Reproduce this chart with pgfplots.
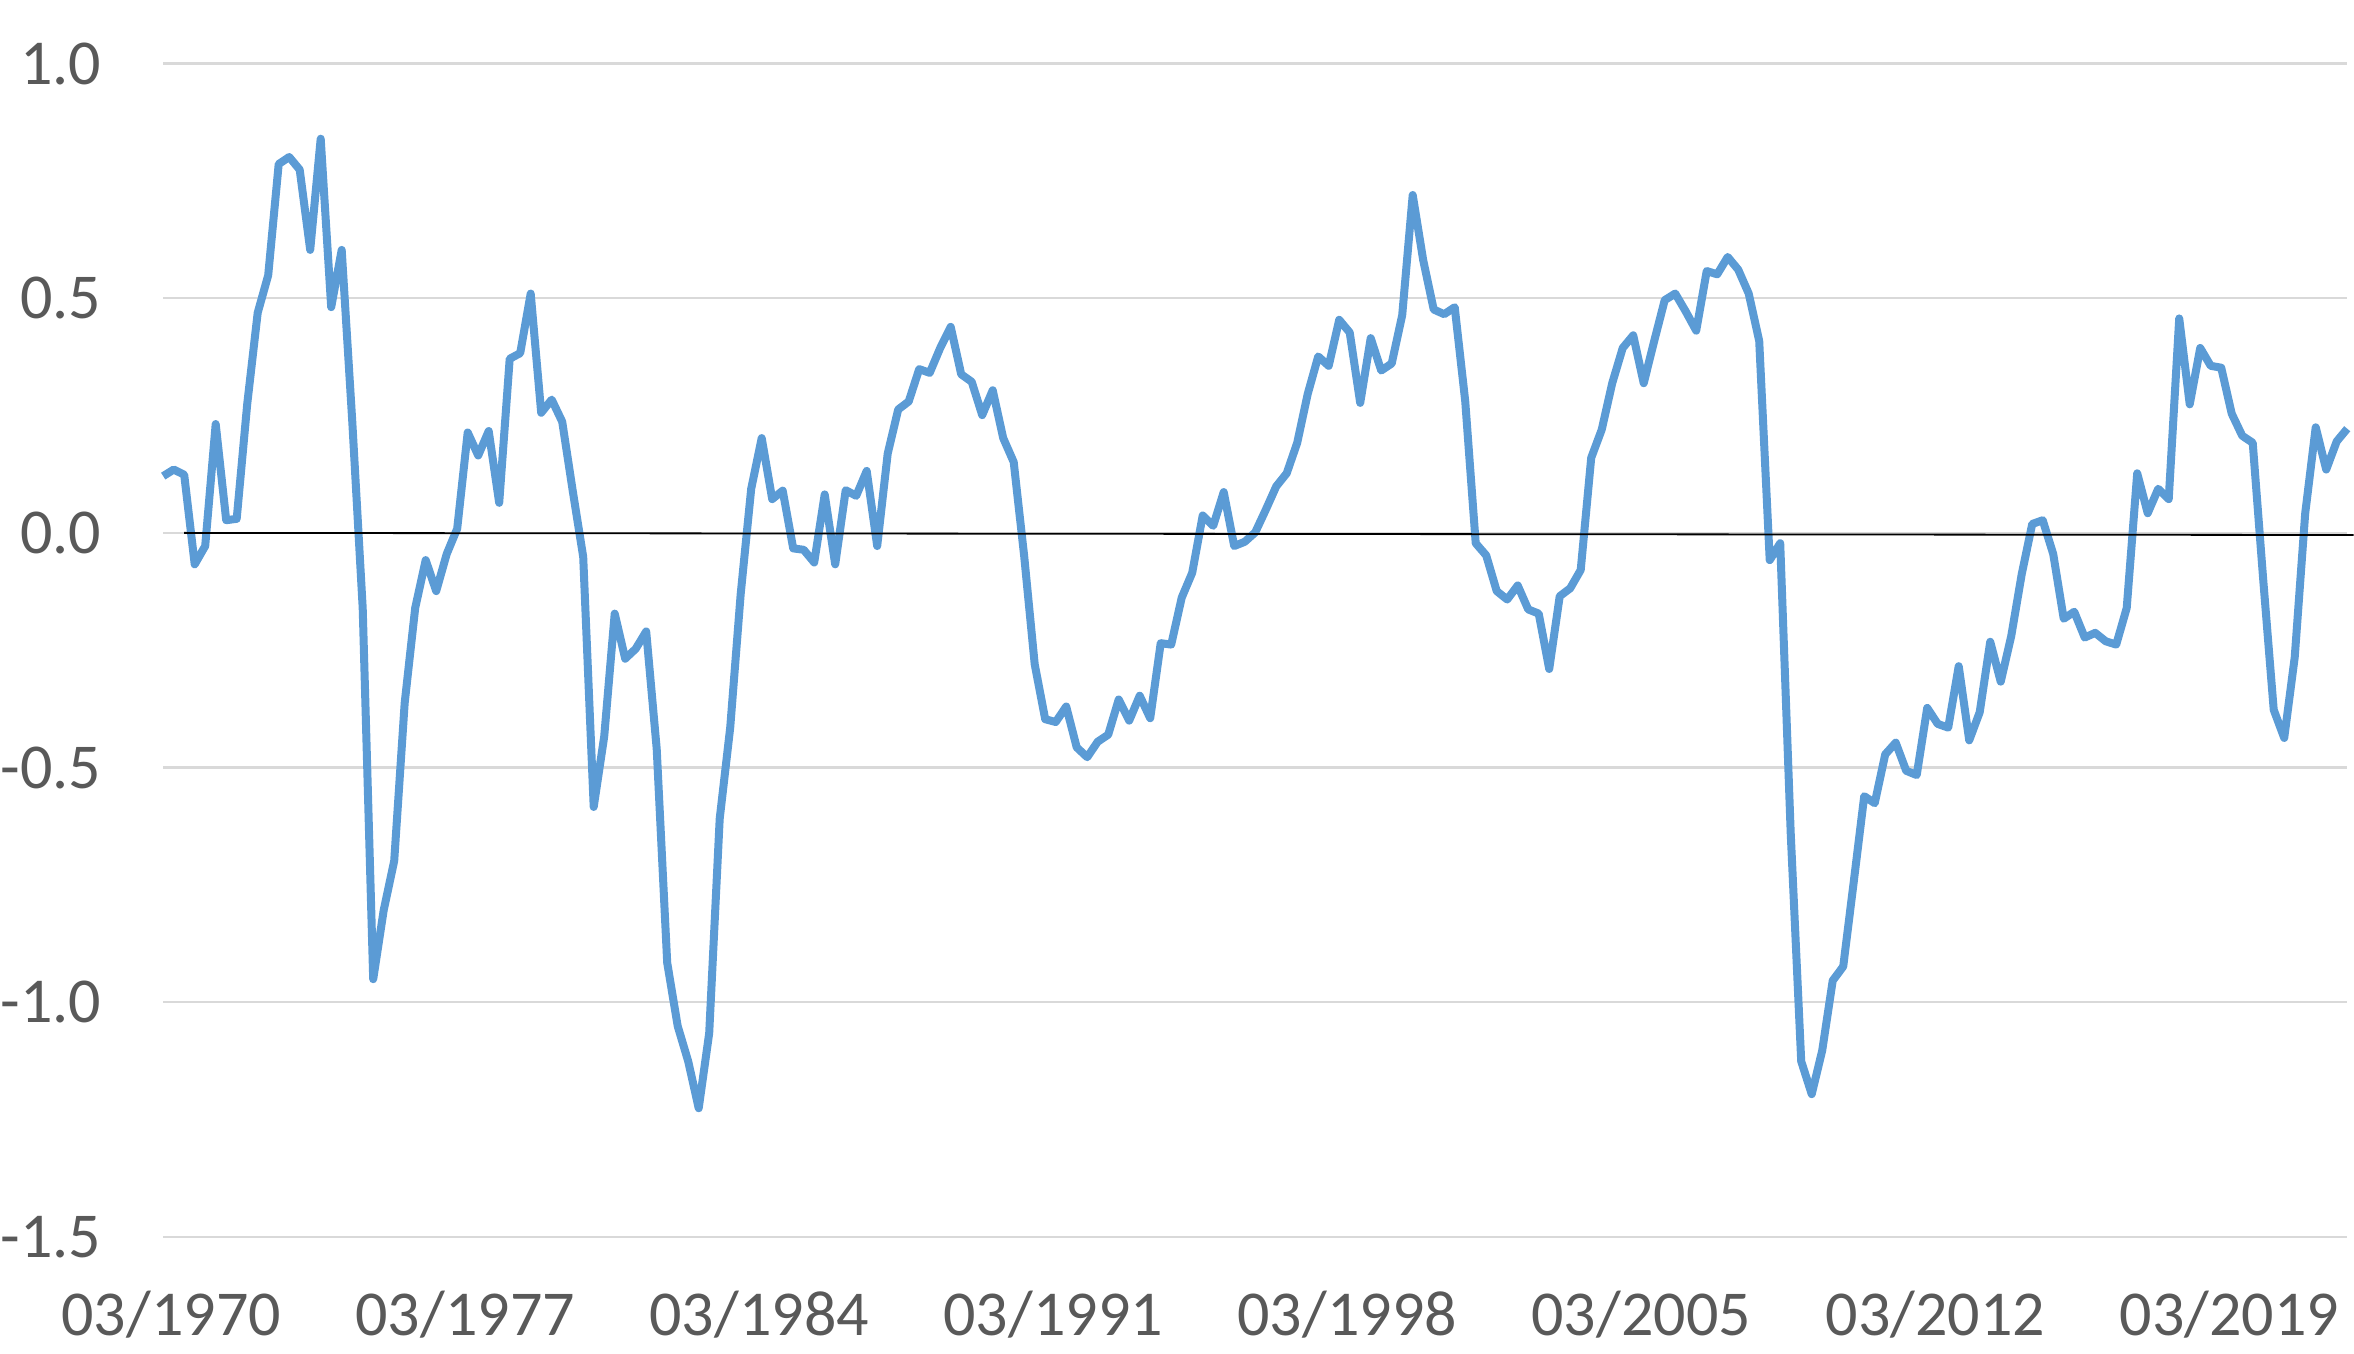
\documentclass[border=0pt]{standalone}
\usepackage{fontspec}
\setmainfont{Carlito}
\usepackage{pgfplots}
\usepackage{pgfplotstable}
\pgfplotsset{compat=1.18}
\definecolor{serie}{HTML}{5B9BD5}
\definecolor{gridc}{HTML}{D9D9D9}
\definecolor{labc}{HTML}{595959}
\pgfplotstableread[row sep=\\]{
v\\
0.121\\ 0.135\\ 0.124\\ -0.067\\ -0.028\\ 0.232\\ 0.027\\ 0.030\\ 0.274\\ 0.469\\
0.549\\ 0.786\\ 0.801\\ 0.774\\ 0.603\\ 0.840\\ 0.481\\ 0.603\\ 0.24\\ -0.160\\
-0.951\\ -0.804\\ -0.699\\ -0.362\\ -0.160\\ -0.058\\ -0.124\\ -0.045\\ 0.009\\ 0.214\\
0.165\\ 0.217\\ 0.064\\ 0.371\\ 0.383\\ 0.510\\ 0.256\\ 0.284\\ 0.237\\ 0.09\\
-0.051\\ -0.584\\ -0.434\\ -0.172\\ -0.268\\ -0.247\\ -0.210\\ -0.460\\ -0.916\\ -1.051\\
-1.126\\ -1.226\\ -1.066\\ -0.609\\ -0.415\\ -0.130\\ 0.094\\ 0.202\\ 0.072\\ 0.090\\
-0.033\\ -0.036\\ -0.063\\ 0.082\\ -0.067\\ 0.091\\ 0.079\\ 0.132\\ -0.028\\ 0.169\\
0.263\\ 0.280\\ 0.349\\ 0.341\\ 0.394\\ 0.439\\ 0.338\\ 0.322\\ 0.251\\ 0.304\\
0.202\\ 0.151\\ -0.05\\ -0.280\\ -0.397\\ -0.403\\ -0.370\\ -0.457\\ -0.478\\ -0.445\\
-0.430\\ -0.355\\ -0.400\\ -0.347\\ -0.395\\ -0.235\\ -0.238\\ -0.138\\ -0.085\\ 0.037\\
0.015\\ 0.087\\ -0.028\\ -0.019\\ 0.001\\ 0.049\\ 0.099\\ 0.127\\ 0.192\\ 0.296\\
0.376\\ 0.356\\ 0.454\\ 0.427\\ 0.277\\ 0.415\\ 0.346\\ 0.361\\ 0.464\\ 0.720\\
0.581\\ 0.476\\ 0.466\\ 0.481\\ 0.281\\ -0.022\\ -0.048\\ -0.124\\ -0.142\\ -0.112\\
-0.163\\ -0.172\\ -0.290\\ -0.135\\ -0.118\\ -0.079\\ 0.160\\ 0.220\\ 0.319\\ 0.394\\
0.421\\ 0.319\\ 0.409\\ 0.496\\ 0.510\\ 0.472\\ 0.431\\ 0.558\\ 0.551\\ 0.588\\
0.561\\ 0.510\\ 0.409\\ -0.058\\ -0.022\\ -0.64\\ -1.126\\ -1.196\\ -1.103\\ -0.954\\
-0.924\\ -0.744\\ -0.561\\ -0.576\\ -0.472\\ -0.447\\ -0.507\\ -0.516\\ -0.373\\ -0.407\\
-0.415\\ -0.284\\ -0.442\\ -0.382\\ -0.232\\ -0.317\\ -0.220\\ -0.088\\ 0.019\\ 0.027\\
-0.045\\ -0.183\\ -0.168\\ -0.223\\ -0.213\\ -0.231\\ -0.238\\ -0.160\\ 0.127\\ 0.042\\
0.094\\ 0.072\\ 0.457\\ 0.274\\ 0.394\\ 0.356\\ 0.352\\ 0.254\\ 0.207\\ 0.192\\
-0.10\\ -0.377\\ -0.437\\ -0.265\\ 0.042\\ 0.225\\ 0.135\\ 0.195\\ 0.222\\
}\series
\begin{document}
\begin{tikzpicture}[font=\fontsize{16}{19}\selectfont]
\begin{axis}[
  at={(0,0)}, anchor=south west,
  scale only axis, width=546pt, height=293.3pt,
  xmin=0, xmax=208, ymin=-1.5, ymax=1.0,
  clip=false,
  axis line style={draw=none},
  major tick length=0pt,
  ymajorgrids,
  grid style={gridc, line width=0.6pt},
  xtick={0,28,56,84,112,140,168,196},
  xticklabels={03/1970,03/1977,03/1984,03/1991,03/1998,03/2005,03/2012,03/2019},
  ytick={-1.5,-1.0,-0.5,0.0,0.5,1.0},
  yticklabels={-1.5,-1.0,-0.5,0.0,0.5,1.0},
  tick label style={text=labc, font=\fontsize{16}{19}\selectfont},
  xticklabel style={yshift=-10pt, xshift=2pt},
  yticklabel style={xshift=-12pt},
]
\addplot[serie, line width=2.0pt, line join=round, no markers] table[x expr=\coordindex, y=v] {\series};
\addplot[black, line width=0.45pt, no markers] coordinates {(2,0) (208.6,-0.0045)};
\end{axis}
\pgfresetboundingbox
\path (-40.8pt,-29.25pt) rectangle (547.7pt,309.2pt);
\end{tikzpicture}
\end{document}
